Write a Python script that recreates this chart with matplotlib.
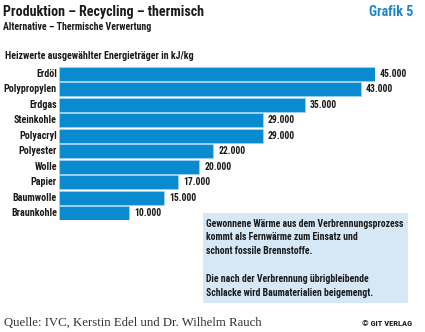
import matplotlib
matplotlib.use("Agg")
import matplotlib.pyplot as plt
from matplotlib.patches import Rectangle

categories = ["Erdöl", "Polypropylen", "Erdgas", "Steinkohle", "Polyacryl",
              "Polyester", "Wolle", "Papier", "Baumwolle", "Braunkohle"]
values = [45000, 43000, 35000, 29000, 29000, 22000, 20000, 17000, 15000, 10000]
value_labels = ["45.000", "43.000", "35.000", "29.000", "29.000",
                "22.000", "20.000", "17.000", "15.000", "10.000"]

FONT = ["Roboto Condensed", "Open Sans Condensed", "DejaVu Sans"]
SERIF = ["Liberation Serif", "DejaVu Serif"]
W, H = 425, 332
BLUE = "#0a8bd0"

fig = plt.figure(figsize=(W / 100, H / 100), dpi=100)
fig.patch.set_facecolor("white")
renderer = fig.canvas.get_renderer()

def fx(px):
    return px / W

def fy(py):
    return 1 - py / H

def fit(t, target_px):
    """scale font so text width equals target px"""
    bb = t.get_window_extent(renderer=renderer)
    t.set_fontsize(t.get_fontsize() * target_px / bb.width)
    return t

ax = fig.add_axes([fx(59), fy(220), fx(375) - fx(59), fy(67) - fy(220)])
ypos = list(range(len(categories)))
ax.barh(ypos, values, height=0.9, color=BLUE, edgecolor="#9fd3f0", linewidth=0.6)
ax.set_xlim(0, 45000)
ax.set_ylim(len(categories) - 0.55, -0.45)
ax.axis("off")

tmp = ax.text(0, 0, "Polypropylen", fontsize=8.5, fontweight="bold", family=FONT)
fit(tmp, 52)
catsize = tmp.get_fontsize()
tmp.remove()
tmp = ax.text(0, 0, "45.000", fontsize=8.5, fontweight="bold", family=FONT)
fit(tmp, 27)
valsize = tmp.get_fontsize()
tmp.remove()

for y, v, lab, cat in zip(ypos, values, value_labels, categories):
    ax.text(v + 700, y, lab, va="center", ha="left", fontsize=valsize,
            fontweight="bold", family=FONT, color="#1a1a1a", clip_on=False)
    ax.text(-300, y, cat, va="center", ha="right", fontsize=catsize,
            fontweight="bold", family=FONT, color="#1a1a1a", clip_on=False)

fit(fig.text(fx(3), fy(12), "Produktion – Recycling – thermisch", fontsize=13,
             fontweight="bold", family=FONT, color="#1a1a1a", va="center", ha="left"), 200)
fit(fig.text(fx(3), fy(27), "Alternative – Thermische Verwertung", fontsize=8.5,
             fontweight="bold", family=FONT, color="#1a1a1a", va="center", ha="left"), 148)
fit(fig.text(fx(413), fy(12), "Grafik 5", fontsize=13, fontweight="bold",
             family=FONT, color="#1d86c8", va="center", ha="right"), 44)
fit(fig.text(fx(5), fy(56), "Heizwerte ausgewählter Energieträger in kJ/kg",
             fontsize=8.5, fontweight="bold", family=FONT, color="#1a1a1a",
             va="center", ha="left"), 186)

box = Rectangle((fx(203), fy(303)), fx(408) - fx(203), fy(213) - fy(303),
                transform=fig.transFigure, facecolor="#d6e7f6", edgecolor="none")
fig.patches.append(box)
tmp = fig.text(0, 0, "Gewonnene Wärme aus dem Verbrennungsprozess", fontsize=7.3,
               fontweight="bold", family=FONT)
fit(tmp, 199)
boxsize = tmp.get_fontsize()
tmp.remove()
box_lines = {224: "Gewonnene Wärme aus dem Verbrennungsprozess",
             237.5: "kommt als Fernwärme zum Einsatz und",
             251: "schont fossile Brennstoffe.",
             279: "Die nach der Verbrennung übrigbleibende",
             292.5: "Schlacke wird Baumaterialien beigemengt."}
for yy, s in box_lines.items():
    fig.text(fx(206), fy(yy), s, fontsize=boxsize, fontweight="bold", family=FONT,
             color="#1a1a1a", va="center", ha="left")

fit(fig.text(fx(4), fy(323), "Quelle: IVC, Kerstin Edel und Dr. Wilhelm Rauch",
             fontsize=9.5, family=SERIF, color="#333333", va="center", ha="left"), 259)
fit(fig.text(fx(412), fy(323), "© GIT VERLAG", fontsize=6.5, fontweight="bold",
             family=FONT, color="#1a1a1a", va="center", ha="right"), 50)

fig.savefig("out.png", dpi=100, facecolor="white")
